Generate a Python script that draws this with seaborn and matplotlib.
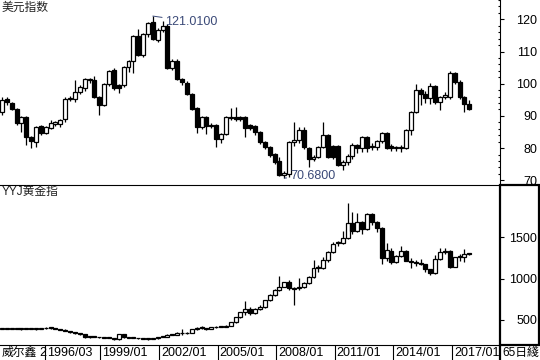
import matplotlib
matplotlib.use("Agg")
import matplotlib.pyplot as plt
import matplotlib.transforms as mtransforms
from matplotlib.patches import Rectangle
from matplotlib.lines import Line2D
from matplotlib.ticker import MultipleLocator
import seaborn as sns
import pandas as pd
import numpy as np

# 美元指数, one candle per 65 trading days
usd_open = [91.2, 95.2, 94.0, 92.1, 87.8, 89.7, 83.5, 81.9, 86.9, 84.7,
            86.2, 87.5, 87.5, 89.0, 95.2, 95.2, 97.4, 98.7, 101.2, 101.2,
            95.9, 93.4, 99.9, 104.2, 99.6, 99.6, 105.2, 107.0, 114.8, 108.9,
            115.4, 119.2, 113.6, 116.7, 117.9, 104.9, 107.0, 101.5, 100.2, 96.8,
            92.5, 86.6, 89.7, 86.9, 87.2, 82.8, 84.4, 89.3, 89.7, 89.7,
            89.7, 87.2, 86.9, 85.0, 81.9, 80.3, 78.2, 76.0, 71.6, 72.0,
            81.9, 82.5, 85.6, 80.0, 76.6, 77.2, 80.3, 84.1, 80.7, 80.7,
            74.8, 75.7, 77.5, 81.0, 80.0, 83.5, 80.3, 80.3, 82.2, 84.7,
            80.7, 80.0, 80.0, 80.0, 85.6, 91.2, 98.1, 96.8, 95.6, 99.3,
            94.3, 95.9, 95.9, 103.3, 100.5, 95.9, 93.7]
usd_high = [95.9, 95.9, 94.3, 92.4, 90.0, 89.9, 83.8, 86.9, 87.2, 86.9,
            88.7, 88.4, 89.0, 95.9, 96.2, 101.2, 99.6, 101.8, 101.8, 102.4,
            96.2, 100.2, 104.2, 104.8, 99.9, 105.5, 107.4, 115.1, 117.0, 115.7,
            119.2, 121.01, 117.3, 119.5, 118.5, 107.6, 107.6, 101.8, 100.8, 97.1,
            92.8, 90.0, 90.0, 87.8, 87.5, 84.7, 90.0, 92.5, 92.8, 90.0,
            90.0, 87.5, 87.2, 85.3, 82.2, 80.7, 78.5, 77.2, 73.0, 82.2,
            88.1, 86.6, 86.6, 80.3, 77.8, 80.7, 88.1, 84.4, 81.0, 81.0,
            76.3, 78.2, 81.6, 81.3, 83.8, 83.8, 81.6, 82.5, 85.0, 85.0,
            81.3, 80.7, 81.0, 85.9, 91.5, 100.0, 98.7, 97.7, 100.2, 99.6,
            96.2, 97.4, 103.8, 103.6, 101.2, 96.2, 94.9]
usd_low = [90.3, 93.4, 91.8, 87.2, 85.0, 81.0, 80.0, 80.3, 84.1, 84.4,
           85.9, 86.9, 86.6, 88.1, 94.6, 94.3, 96.8, 97.8, 100.2, 95.6,
           90.3, 93.1, 99.3, 98.1, 97.1, 99.0, 103.6, 103.4, 108.5, 108.3,
           114.5, 113.6, 112.9, 116.1, 104.5, 104.2, 101.2, 99.6, 96.5, 91.8,
           84.7, 86.0, 84.4, 86.3, 80.3, 81.6, 84.1, 88.7, 88.4, 88.4,
           83.5, 85.6, 84.1, 81.3, 79.7, 77.2, 75.1, 71.3, 70.68, 71.0,
           80.7, 81.6, 79.7, 74.2, 76.0, 76.9, 80.0, 76.9, 76.6, 74.5,
           73.2, 74.8, 76.6, 78.5, 78.8, 78.8, 79.4, 79.4, 81.6, 79.7,
           79.1, 79.1, 78.8, 79.7, 84.1, 90.9, 93.4, 94.0, 93.7, 93.7,
           91.8, 95.3, 95.3, 99.9, 95.3, 91.1, 91.8]
usd_close = [94.9, 94.3, 92.1, 87.8, 89.7, 83.5, 82.2, 86.6, 84.7, 86.6,
             87.8, 88.0, 88.7, 95.2, 95.6, 97.4, 99.0, 101.5, 101.5, 95.9,
             93.4, 99.9, 103.9, 98.7, 98.7, 105.2, 107.0, 114.8, 108.9, 115.4,
             118.9, 113.9, 116.7, 117.9, 104.9, 107.0, 101.5, 100.5, 96.8, 92.1,
             86.6, 89.7, 86.9, 87.2, 82.8, 84.4, 89.7, 89.7, 89.0, 89.0,
             86.2, 86.2, 85.0, 81.9, 80.3, 77.9, 75.7, 71.6, 72.2, 81.9,
             82.5, 85.6, 80.3, 76.6, 77.2, 80.3, 84.1, 77.2, 77.2, 74.8,
             75.7, 77.5, 81.0, 80.0, 83.5, 80.0, 80.7, 82.2, 84.7, 80.0,
             80.0, 80.3, 80.3, 85.6, 91.2, 98.1, 96.8, 95.6, 99.3, 94.3,
             95.9, 96.5, 103.3, 100.5, 95.9, 93.7, 92.1]

# YYJ黄金指
gold_open = [390, 396, 392, 394, 391, 395, 392, 389, 393, 397,
             408, 400, 393, 382, 366, 350, 336, 328, 290, 296,
             292, 288, 286, 282, 265, 326, 292, 287, 280, 276,
             270, 268, 277, 290, 296, 322, 322, 344, 336, 348,
             386, 412, 400, 396, 410, 420, 415, 428, 470, 535,
             595, 632, 578, 632, 660, 738, 802, 862, 902, 955,
             870, 883, 902, 943, 1016, 1140, 1125, 1225, 1318, 1440,
             1427, 1495, 1669, 1576, 1681, 1603, 1778, 1689, 1609, 1253,
             1340, 1205, 1277, 1334, 1217, 1205, 1190, 1173, 1116, 1064,
             1234, 1326, 1334, 1144, 1258, 1262, 1306]
gold_high = [398, 400, 398, 399, 398, 400, 396, 395, 400, 416,
             410, 404, 396, 386, 370, 352, 340, 332, 300, 302,
             298, 294, 290, 286, 332, 328, 296, 292, 284, 280,
             275, 280, 292, 300, 328, 330, 350, 385, 352, 390,
             410, 428, 408, 415, 432, 430, 440, 475, 540, 600,
             732, 660, 640, 675, 745, 810, 870, 1032, 965, 985,
             900, 1004, 960, 1030, 1225, 1160, 1265, 1330, 1440, 1450,
             1576, 1911, 1810, 1795, 1700, 1795, 1795, 1700, 1620, 1430,
             1365, 1290, 1392, 1345, 1246, 1225, 1237, 1180, 1120, 1286,
             1375, 1370, 1345, 1265, 1295, 1358, 1310]
gold_low = [385, 388, 385, 388, 384, 390, 385, 383, 388, 395,
            396, 390, 378, 362, 345, 330, 322, 285, 284, 288,
            284, 282, 278, 255, 262, 286, 280, 276, 270, 266,
            258, 265, 274, 288, 292, 315, 318, 320, 330, 344,
            382, 395, 378, 390, 405, 410, 410, 425, 466, 525,
            565, 560, 570, 625, 650, 730, 795, 850, 895, 860,
            681, 865, 890, 930, 1010, 1080, 1120, 1200, 1310, 1390,
            1420, 1480, 1535, 1560, 1536, 1590, 1650, 1560, 1180, 1210,
            1180, 1185, 1260, 1210, 1132, 1150, 1160, 1085, 1046, 1060,
            1220, 1300, 1125, 1140, 1215, 1205, 1290]
gold_close = [396, 392, 394, 391, 395, 392, 389, 393, 397, 408,
              400, 393, 382, 366, 350, 336, 328, 290, 296, 292,
              288, 286, 282, 265, 326, 292, 287, 280, 276, 270,
              268, 277, 290, 296, 322, 320, 344, 336, 348, 386,
              404, 400, 396, 410, 420, 415, 428, 470, 535, 592,
              632, 578, 632, 660, 738, 802, 862, 902, 955, 883,
              884, 902, 943, 1016, 1125, 1125, 1225, 1318, 1415, 1427,
              1495, 1669, 1576, 1681, 1603, 1778, 1689, 1609, 1253, 1346,
              1205, 1277, 1334, 1217, 1198, 1185, 1173, 1116, 1064, 1234,
              1326, 1334, 1144, 1258, 1262, 1294, 1296]

date_labels = ["1996/03", "1999/01", "2002/01", "2005/01",
               "2008/01", "2011/01", "2014/01", "2017/01"]

sns.set_theme(style="white")
plt.rcParams["font.family"] = ["Liberation Sans", "Noto Sans CJK SC", "DejaVu Sans"]

W, H = 540, 360
fig = plt.figure(figsize=(5.4, 3.6), dpi=100)
fig.patch.set_facecolor("white")


def fx(px):
    return px / W


def fy(py):
    return 1 - py / H


ax1 = fig.add_axes([0, fy(185), fx(500), 185 / H])
ax2 = fig.add_axes([0, fy(345), fx(500), 160 / H])

dates = pd.date_range("1993-12-20", periods=len(usd_open), freq="65B")


def draw_candles(ax, o, h, l, c, min_h):
    df = pd.DataFrame({"date": dates, "o": o, "h": h, "l": l, "c": c})
    df["up"] = df["c"] >= df["o"]
    df["bottom"] = df[["o", "c"]].min(axis=1)
    df["height"] = (df["c"] - df["o"]).abs().clip(lower=min_h)
    ax.vlines(df["date"], df["l"], df["h"], color="black", lw=0.9, zorder=1)
    for up, face in [(True, "white"), (False, "black")]:
        d = df[df["up"] == up]
        ax.bar(d["date"], d["height"], bottom=d["bottom"], width=74,
               color=face, edgecolor="black", linewidth=0.9, zorder=2)


draw_candles(ax1, usd_open, usd_high, usd_low, usd_close, 0.3)
draw_candles(ax2, gold_open, gold_high, gold_low, gold_close, 10)

xmin, xmax = pd.Timestamp("1993-11-14"), pd.Timestamp("2019-06-17")
for ax in (ax1, ax2):
    ax.set_xlim(xmin, xmax)
    ax.set_facecolor("white")
    ax.grid(False)
    for s in ax.spines.values():
        s.set_color("black")
        s.set_linewidth(0.8)

ax1.set_ylim(68.54, 126.0)
ax2.set_ylim(196.8, 2132.8)

# right price axes
ax1.set_yticks(range(70, 121, 10))
ax1.yaxis.set_minor_locator(MultipleLocator(2))
ax2.set_yticks([500, 1000, 1500])
for ax in (ax1, ax2):
    ax.yaxis.tick_right()
    ax.tick_params(axis="y", which="major", direction="out", length=3, width=0.8,
                   pad=23.6, labelsize=9, colors="black", right=True)
    for lbl in ax.get_yticklabels():
        lbl.set_ha("right")
ax1.tick_params(axis="y", which="minor", direction="in", length=1.2, width=0.8,
                colors="black", right=True)

clip = mtransforms.Bbox.from_extents(0, H - 185, W, H)
for lbl in ax1.get_yticklabels():
    lbl.set_clip_box(clip)
    lbl.set_clip_on(True)

ax1.spines["left"].set_visible(False)
ax1.spines["top"].set_visible(False)
ax1.spines["bottom"].set_visible(False)
ax1.tick_params(axis="x", bottom=False, labelbottom=False)

ax2.spines["left"].set_visible(False)
ax2.spines["right"].set_visible(False)

# date dividers and labels
tick_dates = pd.to_datetime(date_labels, format="%Y/%m")
ax2.set_xticks(tick_dates)
ax2.tick_params(axis="x", bottom=True, direction="out", length=10.8, width=0.8,
                colors="black", labelbottom=False)
strip = mtransforms.blended_transform_factory(ax2.transData, fig.transFigure)
strip = mtransforms.offset_copy(strip, fig=fig, x=2, y=0, units="dots")
for d, lbl in zip(tick_dates, date_labels):
    ax2.text(d, fy(353), lbl, transform=strip, ha="left", va="center",
             fontsize=9, color="black", clip_on=False)

fig.text(fx(2), fy(353), "威尔鑫", ha="left", va="center", fontsize=8.5, color="black")
fig.text(fx(39), fy(353), "2", ha="left", va="center", fontsize=9, color="black")
fig.text(fx(502), fy(353), "65日綫", ha="left", va="center", fontsize=8.5, color="black")

fig.text(fx(2), fy(8), "美元指数", ha="left", va="center", fontsize=8.5, color="#222222")
fig.text(fx(2), fy(192), "YYJ黄金指", ha="left", va="center", fontsize=8.5, color="#222222")

# thick frame around the active panel's price scale
fig.add_artist(Rectangle((fx(500), fy(345)), fx(39), 160 / H, transform=fig.transFigure,
                         fill=False, lw=1.6, ec="black"))
fig.add_artist(Line2D([fx(500), fx(500)], [fy(345), fy(360)], transform=fig.transFigure,
                      lw=1.6, color="black"))

# extreme value marks
note = "#3b4a78"
hi = int(np.argmax(usd_high))
lo = int(np.argmin(usd_low))
ax1.annotate(f"{usd_high[hi]:.4f}", xy=(dates[hi], usd_high[hi]), xytext=(9, -4),
             textcoords="offset points", ha="left", va="center", fontsize=9, color=note,
             arrowprops=dict(arrowstyle="-", color=note, lw=0.7, shrinkA=0, shrinkB=0))
ax1.annotate(f"{usd_low[lo]:.4f}", xy=(dates[lo], usd_low[lo]), xytext=(4, 1.5),
             textcoords="offset points", ha="left", va="center", fontsize=9, color=note,
             arrowprops=dict(arrowstyle="-", color=note, lw=0.7, shrinkA=0, shrinkB=0))

fig.savefig("out.png", dpi=100, facecolor="white")
